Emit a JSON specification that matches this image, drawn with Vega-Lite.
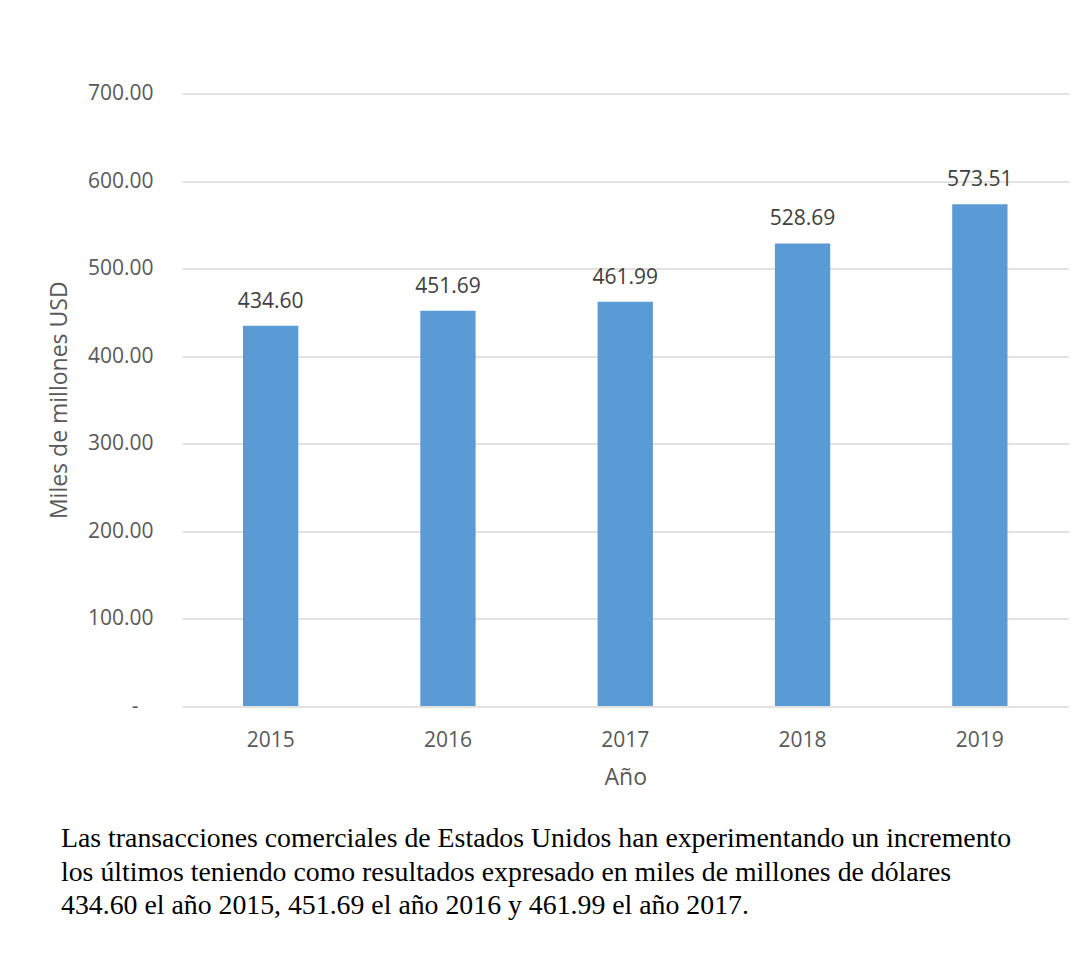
{
  "$schema": "https://vega.github.io/schema/vega-lite/v6.json",
  "autosize": "none",
  "width": 886.5,
  "height": 612.5,
  "padding": {"left": 182, "top": 93.5, "right": 16.5, "bottom": 254},
  "background": "white",
  "config": {
    "view": {"stroke": null},
    "font": "Open Sans",
    "axis": {"labelColor": "#595959", "titleColor": "#595959", "labelFontSize": 21, "titleFontSize": 23, "titleFontWeight": "normal", "gridColor": "#d9d9d9", "gridWidth": 1.5, "domain": false, "ticks": false}
  },
  "title": {
    "text": ["Las transacciones comerciales de Estados Unidos han experimentando un incremento", "los últimos teniendo como resultados expresado en miles de millones  de dólares", "434.60 el año 2015, 451.69 el año 2016 y 461.99 el año 2017."],
    "orient": "bottom",
    "anchor": "start",
    "frame": "group",
    "font": "Liberation Serif",
    "fontSize": 27.8,
    "fontWeight": "normal",
    "color": "#000000",
    "lineHeight": 33.5,
    "offset": 36,
    "dx": -121
  },
  "data": {
    "values": [
      {"year": "2015", "value": 434.60},
      {"year": "2016", "value": 451.69},
      {"year": "2017", "value": 461.99},
      {"year": "2018", "value": 528.69},
      {"year": "2019", "value": 573.51}
    ]
  },
  "encoding": {
    "x": {
      "field": "year", "type": "ordinal",
      "scale": {"paddingInner": 0.688, "paddingOuter": 0.344},
      "axis": {"title": "Año", "labelAngle": 0, "labelPadding": 23, "titlePadding": 16, "grid": false}
    },
    "y": {
      "field": "value", "type": "quantitative",
      "scale": {"domain": [0, 700], "nice": false},
      "axis": {"title": "Miles de millones USD", "values": [0, 100, 200, 300, 400, 500, 600, 700], "labelExpr": "datum.value === 0 ? '-\u2800' : format(datum.value, '.2f')", "labelPadding": 29, "titlePadding": 16, "grid": true}
    }
  },
  "layer": [
    {"mark": {"type": "bar", "color": "#5b9bd5"}},
    {
      "mark": {"type": "text", "dy": -18, "baseline": "alphabetic", "fontSize": 21, "color": "#404040"},
      "encoding": {"text": {"field": "value", "type": "quantitative", "format": ".2f"}}
    }
  ]
}
